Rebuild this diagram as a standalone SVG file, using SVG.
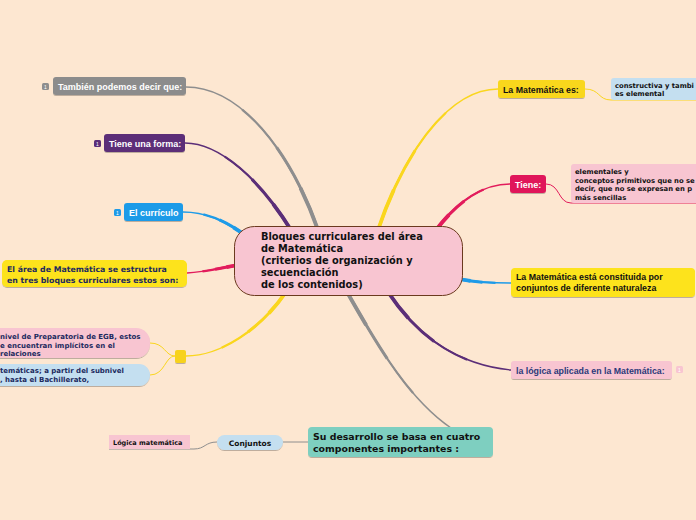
<svg xmlns="http://www.w3.org/2000/svg" width="696" height="520" viewBox="0 0 696 520">
<defs>
<style>
.sans{font-family:"Liberation Sans",Arial,sans-serif;font-weight:bold}
.dv{font-family:"DejaVu Sans",Verdana,sans-serif;font-weight:bold}
.w{fill:#ffffff}
.k{fill:#111111}
.nv{fill:#1c2a5e}
.br{fill:none;stroke-linecap:round;stroke-width:1.4}
.t2{fill:none;stroke-width:2.2;stroke-dasharray:0 30 70 0}
.t3{fill:none;stroke-width:3;stroke-dasharray:0 55 45 0}
.t4{fill:none;stroke-width:3.8;stroke-dasharray:0 78 22 0}
.thin{fill:none;stroke-width:1}
.ic{font-family:"Liberation Sans",Arial,sans-serif;font-size:5px;text-anchor:middle}
.gy{stroke:#8e8e8e}.pu{stroke:#5b2e78}.bl{stroke:#1e9be8}.cr{stroke:#e21c5c}.ye{stroke:#fad61e}
</style>
<filter id="sh" x="-10%" y="-10%" width="120%" height="140%">
<feDropShadow dx="0" dy="1" stdDeviation="0.6" flood-color="#000" flood-opacity="0.25"/>
</filter>
</defs>
<rect width="696" height="520" fill="#fde7d1"/>

<g id="connectors">
<g class="gy"><path class="br" d="M186,87 C240,87 290,150 318,230"/><path class="t2" pathLength="100" d="M186,87 C240,87 290,150 318,230"/><path class="t3" pathLength="100" d="M186,87 C240,87 290,150 318,230"/><path class="t4" pathLength="100" d="M186,87 C240,87 290,150 318,230"/></g>
<g class="pu"><path class="br" d="M185,143 C220,143 260,180 291,230"/><path class="t2" pathLength="100" d="M185,143 C220,143 260,180 291,230"/><path class="t3" pathLength="100" d="M185,143 C220,143 260,180 291,230"/><path class="t4" pathLength="100" d="M185,143 C220,143 260,180 291,230"/></g>
<g class="bl"><path class="br" d="M183,212 C205,212 225,220 246,236"/><path class="t2" pathLength="100" d="M183,212 C205,212 225,220 246,236"/><path class="t3" pathLength="100" d="M183,212 C205,212 225,220 246,236"/><path class="t4" pathLength="100" d="M183,212 C205,212 225,220 246,236"/></g>
<g class="cr"><path class="br" d="M187,273 C205,272 220,268 238,265"/><path class="t2" pathLength="100" d="M187,273 C205,272 220,268 238,265"/><path class="t3" pathLength="100" d="M187,273 C205,272 220,268 238,265"/><path class="t4" pathLength="100" d="M187,273 C205,272 220,268 238,265"/></g>
<g class="ye"><path class="br" d="M498,89 C450,89 405,150 378,230"/><path class="t2" pathLength="100" d="M498,89 C450,89 405,150 378,230"/><path class="t3" pathLength="100" d="M498,89 C450,89 405,150 378,230"/><path class="t4" pathLength="100" d="M498,89 C450,89 405,150 378,230"/></g>
<g class="cr"><path class="br" d="M510,184 C480,184 455,205 436,230"/><path class="t2" pathLength="100" d="M510,184 C480,184 455,205 436,230"/><path class="t3" pathLength="100" d="M510,184 C480,184 455,205 436,230"/><path class="t4" pathLength="100" d="M510,184 C480,184 455,205 436,230"/></g>
<g class="bl"><path class="br" d="M511,283 C495,283 480,283 459,279"/><path class="t2" pathLength="100" d="M511,283 C495,283 480,283 459,279"/><path class="t3" pathLength="100" d="M511,283 C495,283 480,283 459,279"/><path class="t4" pathLength="100" d="M511,283 C495,283 480,283 459,279"/></g>
<g class="pu"><path class="br" d="M511,370 C460,365 420,340 388,292"/><path class="t2" pathLength="100" d="M511,370 C460,365 420,340 388,292"/><path class="t3" pathLength="100" d="M511,370 C460,365 420,340 388,292"/><path class="t4" pathLength="100" d="M511,370 C460,365 420,340 388,292"/></g>
<g class="gy"><path class="br" d="M451,428 C410,400 380,350 347,292"/><path class="t2" pathLength="100" d="M451,428 C410,400 380,350 347,292"/><path class="t3" pathLength="100" d="M451,428 C410,400 380,350 347,292"/><path class="t4" pathLength="100" d="M451,428 C410,400 380,350 347,292"/></g>
<g class="ye"><path class="br" d="M186,356 C220,356 260,330 286,292"/><path class="t2" pathLength="100" d="M186,356 C220,356 260,330 286,292"/><path class="t3" pathLength="100" d="M186,356 C220,356 260,330 286,292"/><path class="t4" pathLength="100" d="M186,356 C220,356 260,330 286,292"/></g>
<path class="thin" d="M585,89 C600,89 598,100 611,100 L696,100" stroke="#fad61e"/>
<path class="thin" d="M546,184 C560,184 558,203 571,203 L696,203" stroke="#e21c5c"/>
<path class="thin" d="M175,356 C165,356 165,343 150,343" stroke="#fad61e"/>
<path class="thin" d="M175,356 C165,356 165,375 150,375" stroke="#fad61e"/>
<path class="thin" d="M308,442 L283,442" stroke="#8e8e8e"/>
<path class="thin" d="M217,442 C205,442 205,449 194,449 L109,449" stroke="#8e8e8e"/>
</g>

<g id="central">
<rect x="234.5" y="226.5" width="228" height="69" rx="20" fill="#f8c5d1" stroke="#6b3a1e" stroke-width="1"/>
<text class="dv k" font-size="9.8"><tspan x="261" y="240">Bloques curriculares del área</tspan><tspan x="261" y="252">de Matemática</tspan><tspan x="261" y="264">(criterios de organización y</tspan><tspan x="261" y="276">secuenciación</tspan><tspan x="261" y="288">de los contenidos)</tspan></text>
</g>

<g id="tambien">
<rect x="42" y="83" width="7" height="7" rx="1.5" fill="#8e8e8e"/>
<text class="ic w" x="45.5" y="88.5">1</text>
<rect x="53" y="77" width="133" height="18" rx="3" fill="#8c8c8c" filter="url(#sh)"/>
<text class="sans w" font-size="9" x="58" y="89.5">También podemos decir que:</text>
</g>

<g id="tiene-forma">
<rect x="94" y="140" width="7" height="7" rx="1.5" fill="#5b2e78"/>
<text class="ic w" x="97.5" y="145.5">1</text>
<rect x="104" y="134" width="81" height="18" rx="3" fill="#5c2d78" filter="url(#sh)"/>
<text class="sans w" font-size="9" x="109" y="146.5">Tiene una forma:</text>
</g>

<g id="curriculo">
<rect x="114" y="209" width="7" height="7" rx="1.5" fill="#1e9be8"/>
<text class="ic w" x="117.5" y="214.5">1</text>
<rect x="124" y="203" width="59" height="18" rx="3" fill="#1e9be8" filter="url(#sh)"/>
<text class="sans w" font-size="9" x="129" y="215.5">El currículo</text>
</g>

<g id="area">
<rect x="2" y="260" width="185" height="27" rx="5" fill="#fde31a" filter="url(#sh)"/>
<text class="dv nv" font-size="7.8"><tspan x="7" y="272">El área de Matemática se estructura</tspan><tspan x="7" y="283">en tres bloques curriculares estos son:</tspan></text>
</g>

<g id="junction">
<rect x="175" y="350" width="11" height="13" rx="2" fill="#f7d21d" filter="url(#sh)"/>
</g>

<g id="bloque1">
<rect x="-30" y="328" width="180" height="30" rx="14" fill="#f8c5d1" filter="url(#sh)"/>
<text class="dv nv" font-size="7"><tspan x="0" y="339">nivel de Preparatoria de EGB, estos</tspan><tspan x="0" y="348">e encuentran implícitos en el</tspan><tspan x="0" y="356">relaciones</tspan></text>
</g>

<g id="bloque2">
<rect x="-30" y="364" width="180" height="22" rx="11" fill="#c4dff0" filter="url(#sh)"/>
<text class="dv nv" font-size="7"><tspan x="0" y="373">temáticas; a partir del subnivel</tspan><tspan x="0" y="382">, hasta el Bachillerato,</tspan></text>
</g>

<g id="desarrollo">
<rect x="308" y="427" width="185" height="30" rx="4" fill="#7ecfc0" filter="url(#sh)"/>
<text class="dv k" font-size="9.4"><tspan x="313" y="440">Su desarrollo se basa en cuatro</tspan><tspan x="313" y="452">componentes importantes :</tspan></text>
</g>

<g id="conjuntos">
<rect x="217" y="435" width="66" height="15" rx="7.5" fill="#c4dff0" filter="url(#sh)"/>
<text class="dv k" font-size="7.5" x="250" y="445.5" text-anchor="middle">Conjuntos</text>
</g>

<g id="logica">
<rect x="109" y="435" width="81" height="14" fill="#f8c5d1"/>
<text class="dv k" font-size="6.5" x="113" y="444.5">Lógica matemática</text>
</g>

<g id="mat-es">
<rect x="498" y="80" width="87" height="18" rx="3" fill="#f9d71c" filter="url(#sh)"/>
<text class="sans k" font-size="8.8" x="503" y="92.5">La Matemática es:</text>
</g>

<g id="constructiva">
<rect x="611" y="78" width="90" height="22" rx="3" fill="#c4dff0"/>
<text class="dv k" font-size="6.8"><tspan x="615" y="88">constructiva y tambi</tspan><tspan x="615" y="96">es elemental</tspan></text>
</g>

<g id="tiene">
<rect x="510" y="175" width="36" height="18" rx="3" fill="#e0195a" filter="url(#sh)"/>
<text class="sans w" font-size="9" x="515" y="187.5">Tiene:</text>
</g>

<g id="elementales">
<rect x="571" y="164" width="130" height="39" rx="3" fill="#f8c5d1"/>
<text class="dv k" font-size="6.8"><tspan x="575" y="174">elementales y</tspan><tspan x="575" y="182.5">conceptos primitivos que no se</tspan><tspan x="575" y="191">decir, que no se expresan en p</tspan><tspan x="575" y="199.5">más sencillas</tspan></text>
</g>

<g id="constituida">
<rect x="511" y="268" width="184" height="29" rx="4" fill="#fde31a" filter="url(#sh)"/>
<text class="sans k" font-size="8.8"><tspan x="516" y="280">La Matemática está constituida por</tspan><tspan x="516" y="291">conjuntos de diferente naturaleza</tspan></text>
</g>

<g id="logica-aplicada">
<rect x="511" y="361" width="161" height="18" rx="3" fill="#f8c5d1" filter="url(#sh)"/>
<text class="sans" font-size="8.8" fill="#2b3a7a" x="516" y="373.5">la lógica aplicada en la Matemática:</text>
<rect x="676" y="366" width="7" height="7" rx="1.5" fill="#f8c5d1"/>
<text class="ic" fill="#ffffff" x="679.5" y="371.5">1</text>
</g>
</svg>
